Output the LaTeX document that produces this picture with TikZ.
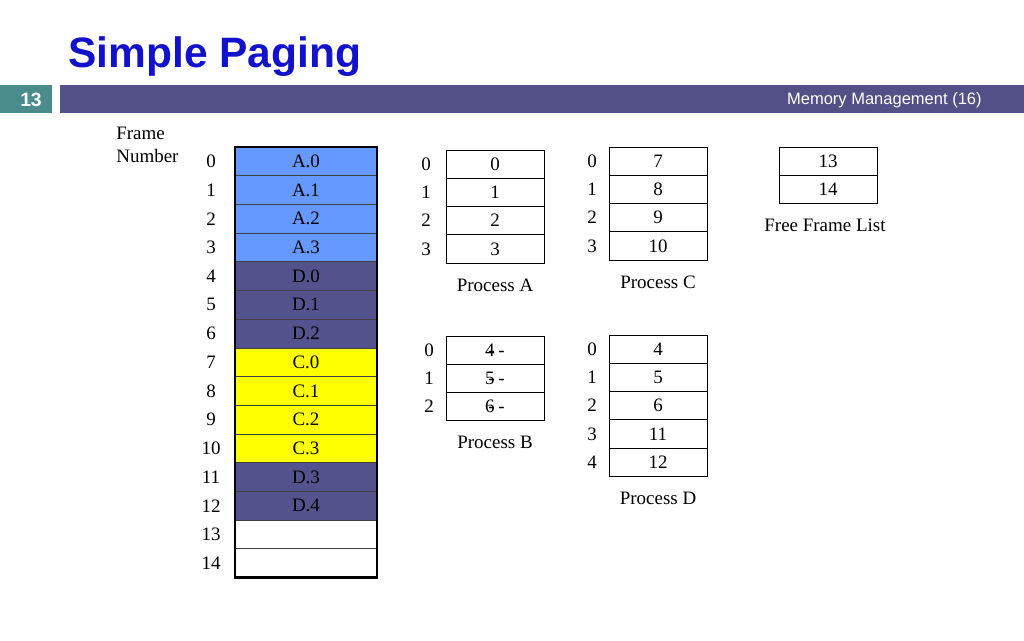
\documentclass[tikz,border=0pt]{standalone}
\usepackage{fontspec}
\setmainfont{Liberation Serif}
\newfontfamily\headfont{Liberation Sans}
\usetikzlibrary{positioning}
\definecolor{slideBlue}{RGB}{18,18,204}
\definecolor{barPurple}{RGB}{82,80,134}
\definecolor{barTeal}{RGB}{74,139,139}
\definecolor{pageA}{RGB}{102,153,255}
\definecolor{pageD}{RGB}{84,82,140}
\definecolor{pageC}{RGB}{255,255,0}
\newcommand{\dashnum}[1]{#1\llap{-}\hspace{0.2em}-}

\begin{document}
\begin{tikzpicture}[x=0.02cm,y=-0.02cm,
  every node/.style={font=\fontsize{10.8}{13}\selectfont},
  frm/.style={draw=black!75,outer sep=0pt,inner sep=0pt,minimum width=2.84cm,minimum height=0.574cm},
  cell/.style={draw,outer sep=0pt,inner sep=0pt,minimum width=1.96cm,minimum height=0.566cm},
  idx/.style={inner sep=0pt}
]
  \useasboundingbox (0,0) rectangle (1024,640);

  % slide header
  \node[anchor=base west,inner sep=0pt,text=slideBlue,font=\headfont\bfseries\fontsize{24.2}{29}\selectfont] (title) at (68,67) {Simple Paging};
  \fill[barTeal] (0,85) rectangle (52,113);
  \fill[barPurple] (60,85) rectangle (1024,113);
  \node[inner sep=0pt,text=white,font=\headfont\bfseries\fontsize{11}{13}\selectfont] (slideno) at (31,99.5) {13};
  \node[anchor=east,inner sep=0pt,text=white,font=\headfont\fontsize{9.4}{11}\selectfont] (topic) at (982,100) {Memory Management (16)};

  % main memory frames
  \node[align=left,anchor=north west,inner sep=0pt] (fhead) at (116,127) {Frame\\Number};
  \foreach \i/\t/\c in {0/A.0/pageA,1/A.1/pageA,2/A.2/pageA,3/A.3/pageA,
                        4/D.0/pageD,5/D.1/pageD,6/D.2/pageD,
                        7/C.0/pageC,8/C.1/pageC,9/C.2/pageC,10/C.3/pageC,
                        11/D.3/pageD,12/D.4/pageD,13//white,14//white} {
    \node[frm,fill=\c] (f\i) at (306,{161.35+28.7*\i}) {\t};
    \node[idx] (fn\i) at ([xshift=-0.48cm]f\i.west) {\i};
  }
  \draw[line width=1.6pt] (f0.north west) rectangle (f14.south east);

  % process A page table
  \node[cell] (pa0) at (495,164) {0};
  \node[idx] (na0) at ([xshift=-0.4cm]pa0.west) {0};
  \foreach \i/\j in {1/0,2/1,3/2} {
    \node[cell,below=0pt of pa\j] (pa\i) {\i};
    \node[idx] (na\i) at ([xshift=-0.4cm]pa\i.west) {\i};
  }
  \node[below=0.19cm of pa3] (capa) {Process A};

  % process B page table
  \node[cell] (pb0) at (495,350) {\dashnum{4}};
  \node[cell,below=0pt of pb0] (pb1) {\dashnum{5}};
  \node[cell,below=0pt of pb1] (pb2) {\dashnum{6}};
  \foreach \i in {0,1,2}
    \node[idx] (nb\i) at ([xshift=-0.34cm]pb\i.west) {\i};
  \node[below=0.19cm of pb2] (capb) {Process B};

  % process C page table
  \node[cell] (pc0) at (658,161) {7};
  \node[cell,below=0pt of pc0] (pc1) {8};
  \node[cell,below=0pt of pc1] (pc2) {9};
  \node[cell,below=0pt of pc2] (pc3) {10};
  \foreach \i in {0,...,3}
    \node[idx] (nc\i) at ([xshift=-0.34cm]pc\i.west) {\i};
  \node[below=0.19cm of pc3] (capc) {Process C};

  % process D page table
  \node[cell] (pd0) at (658,349) {4};
  \node[cell,below=0pt of pd0] (pd1) {5};
  \node[cell,below=0pt of pd1] (pd2) {6};
  \node[cell,below=0pt of pd2] (pd3) {11};
  \node[cell,below=0pt of pd3] (pd4) {12};
  \foreach \i in {0,...,4}
    \node[idx] (nd\i) at ([xshift=-0.34cm]pd\i.west) {\i};
  \node[below=0.19cm of pd4] (capd) {Process D};

  % free frames
  \node[cell] (ff0) at (828,161) {13};
  \node[cell,below=0pt of ff0] (ff1) {14};
  \node[below=0.19cm of ff1,xshift=-0.06cm] (capf) {Free Frame List};
\end{tikzpicture}
\end{document}
